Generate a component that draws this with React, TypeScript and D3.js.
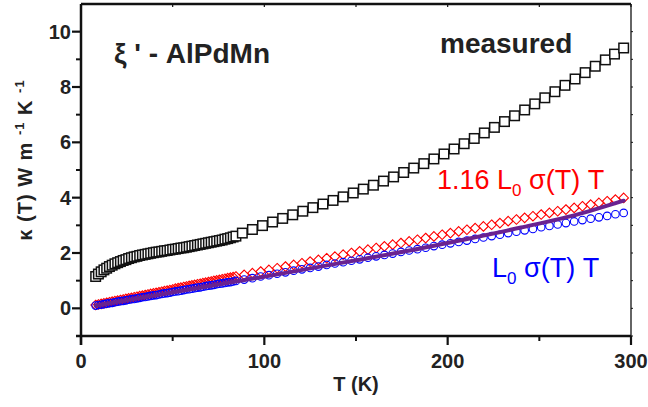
import React from "react";
import * as d3 from "d3";

// Temperatures (K) of the densely sampled low-T region (shared by all three series)
const tDense = [8, 9.5, 11, 12.5, 14, 15.5, 17, 18.5, 20, 21.5, 23, 24.5, 26, 27.5, 29, 30.5, 32, 33.5, 35, 36.5, 38, 39.5, 41, 42.5, 44, 45.5, 47, 48.5, 50, 51.5, 53, 54.5, 56, 57.5, 59, 60.5, 62, 63.5, 65, 66.5, 68, 69.5, 71, 72.5, 74, 75.5, 77, 78.5, 80, 81.5, 83, 84.5];

// measured kappa
const measuredDense = [1.15, 1.24, 1.32, 1.39, 1.45, 1.51, 1.56, 1.61, 1.65, 1.69, 1.73, 1.76, 1.80, 1.83, 1.86, 1.88, 1.91, 1.93, 1.95, 1.97, 1.99, 2.01, 2.03, 2.04, 2.06, 2.08, 2.09, 2.11, 2.13, 2.14, 2.16, 2.18, 2.19, 2.21, 2.23, 2.25, 2.27, 2.29, 2.31, 2.33, 2.35, 2.37, 2.39, 2.41, 2.43, 2.45, 2.47, 2.50, 2.52, 2.55, 2.58, 2.61];
const tMeasuredSparse = [88, 93.5, 99, 104.5, 110, 115.5, 121, 126.5, 132, 137.5, 143, 148.5, 154, 159.5, 165, 170.5, 176, 181.5, 187, 192.5, 198, 203.5, 209, 214.5, 220, 225.5, 231, 236.5, 242, 247.5, 253, 258.5, 264, 269.5, 275, 280.5, 286, 291, 296];
const measuredSparse = [2.72, 2.85, 2.99, 3.12, 3.25, 3.38, 3.51, 3.64, 3.77, 3.90, 4.03, 4.17, 4.31, 4.45, 4.60, 4.75, 4.91, 5.07, 5.23, 5.40, 5.58, 5.76, 5.95, 6.14, 6.34, 6.54, 6.75, 6.96, 7.17, 7.39, 7.61, 7.83, 8.06, 8.29, 8.52, 8.75, 8.98, 9.19, 9.41];

// 1.16 L0 sigma(T) T  (red diamonds) and L0 sigma(T) T (blue circles)
const tRBSparse = [89, 93.5, 98, 102.5, 107, 111.5, 116, 120.5, 125, 129.5, 134, 138.5, 143, 147.5, 152, 156.5, 161, 165.5, 170, 174.5, 179, 183.5, 188, 192.5, 197, 201.5, 206, 210.5, 215, 219.5, 224, 228.5, 233, 237.5, 242, 246.5, 251, 255.5, 260, 264.5, 269, 273.5, 278, 282.5, 287, 291.5, 296];
const redDense = [0.12, 0.14, 0.16, 0.18, 0.20, 0.22, 0.24, 0.26, 0.28, 0.30, 0.32, 0.34, 0.36, 0.38, 0.40, 0.42, 0.44, 0.46, 0.48, 0.50, 0.52, 0.54, 0.56, 0.58, 0.60, 0.62, 0.64, 0.66, 0.68, 0.71, 0.73, 0.75, 0.77, 0.79, 0.81, 0.83, 0.85, 0.87, 0.89, 0.91, 0.93, 0.95, 0.97, 0.99, 1.01, 1.03, 1.05, 1.07, 1.09, 1.11, 1.13, 1.15];
const redSparse = [1.21, 1.27, 1.33, 1.39, 1.45, 1.51, 1.57, 1.63, 1.69, 1.75, 1.81, 1.87, 1.94, 2.00, 2.06, 2.12, 2.18, 2.24, 2.30, 2.36, 2.42, 2.48, 2.54, 2.60, 2.66, 2.72, 2.78, 2.84, 2.90, 2.96, 3.02, 3.08, 3.15, 3.21, 3.27, 3.33, 3.39, 3.45, 3.51, 3.57, 3.63, 3.69, 3.75, 3.81, 3.87, 3.93, 3.99];
const blueDense = [0.10, 0.12, 0.13, 0.15, 0.17, 0.19, 0.20, 0.22, 0.24, 0.26, 0.27, 0.29, 0.31, 0.33, 0.34, 0.36, 0.38, 0.40, 0.41, 0.43, 0.45, 0.47, 0.48, 0.50, 0.52, 0.54, 0.55, 0.57, 0.59, 0.61, 0.62, 0.64, 0.66, 0.68, 0.69, 0.71, 0.73, 0.75, 0.76, 0.78, 0.80, 0.82, 0.83, 0.85, 0.87, 0.89, 0.90, 0.92, 0.94, 0.95, 0.97, 0.99];
const blueSparse = [1.04, 1.09, 1.15, 1.20, 1.25, 1.30, 1.36, 1.41, 1.46, 1.51, 1.57, 1.62, 1.67, 1.72, 1.77, 1.83, 1.88, 1.93, 1.98, 2.04, 2.09, 2.14, 2.19, 2.25, 2.30, 2.35, 2.40, 2.45, 2.51, 2.56, 2.61, 2.66, 2.72, 2.77, 2.82, 2.87, 2.93, 2.98, 3.03, 3.08, 3.14, 3.19, 3.24, 3.29, 3.34, 3.40, 3.45];

// purple fit line
const tFit = [8, 30, 60, 90, 120, 150, 180, 210, 240, 270, 296];
const fitValues = [0.10, 0.35, 0.69, 1.03, 1.38, 1.74, 2.10, 2.50, 2.92, 3.38, 3.89];

// axis ticks
const xTicks = [0, 100, 200, 300];
const xMinorTicks = [50, 150, 250];
const yTicks = [0, 2, 4, 6, 8, 10];
const yMinorTicks = [-1, 1, 3, 5, 7, 9];

const W = 648;
const H = 407;
const FONT = "'Liberation Sans', Arial, Helvetica, sans-serif";

export default function App() {
  const x = d3.scaleLinear().domain([0, 300]).range([81, 631]);
  const y = d3.scaleLinear().domain([-1, 11]).range([336, 4]);

  const measured = [
    ...tDense.map((t, i) => [t, measuredDense[i]]),
    ...tMeasuredSparse.map((t, i) => [t, measuredSparse[i]]),
  ];
  const red = [
    ...tDense.map((t, i) => [t, redDense[i]]),
    ...tRBSparse.map((t, i) => [t, redSparse[i]]),
  ];
  const blue = [
    ...tDense.map((t, i) => [t, blueDense[i]]),
    ...tRBSparse.map((t, i) => [t, blueSparse[i]]),
  ];
  const fit = tFit.map((t, i) => [t, fitValues[i]] as [number, number]);

  const line = d3
    .line<[number, number]>()
    .x((d) => x(d[0]))
    .y((d) => y(d[1]))
    .curve(d3.curveMonotoneX);

  const sq = 9.5;
  const dm = 4.8;
  const cr = 3.8;
  const x0 = x.range()[0];
  const x1 = x.range()[1];
  const y0 = y.range()[0];
  const y1 = y.range()[1];

  return (
    <svg
      width={W}
      height={H}
      style={{ position: "absolute", left: 0, top: 0, background: "#fff" }}
      fontFamily={FONT}
    >
      <rect x={0} y={0} width={W} height={H} fill="#fff" />
      {/* measured squares */}
      <g>
        {measured.map((d, i) => (
          <rect
            key={"m" + i}
            x={x(d[0]) - sq / 2}
            y={y(d[1]) - sq / 2}
            width={sq}
            height={sq}
            fill="#fff"
            stroke="#111"
            strokeWidth={1.5}
          />
        ))}
      </g>
      {/* red diamonds */}
      <g>
        {red.map((d, i) => {
          const cx = x(d[0]);
          const cy = y(d[1]);
          return (
            <path
              key={"r" + i}
              d={`M${cx},${cy - dm}L${cx + dm},${cy}L${cx},${cy + dm}L${cx - dm},${cy}Z`}
              fill="none"
              stroke="#ff0000"
              strokeWidth={1.1}
            />
          );
        })}
      </g>
      {/* blue circles */}
      <g>
        {blue.map((d, i) => (
          <circle
            key={"b" + i}
            cx={x(d[0])}
            cy={y(d[1])}
            r={cr}
            fill="none"
            stroke="#0000ff"
            strokeWidth={1.1}
          />
        ))}
      </g>
      {/* fit line */}
      <path d={line(fit) || ""} fill="none" stroke="#6a2290" strokeWidth={4} strokeLinecap="round" />

      {/* frame */}
      <line x1={x0} x2={x1} y1={y1} y2={y1} stroke="#111" strokeWidth={2.5} />
      <line x1={x1} x2={x1} y1={y1} y2={y0} stroke="#111" strokeWidth={1.3} />
      <line x1={x0 - 5} x2={x1} y1={y0} y2={y0} stroke="#111" strokeWidth={2.5} />
      <line x1={x0} x2={x0} y1={y1} y2={y0 + 9} stroke="#111" strokeWidth={2.5} />

      {/* x ticks */}
      {xTicks.map((t) => (
        <g key={"xt" + t}>
          <line x1={x(t)} x2={x(t)} y1={y0} y2={y0 + 9} stroke="#111" strokeWidth={2.2} />
          <line x1={x(t)} x2={x(t)} y1={y1} y2={y1 + 3} stroke="#111" strokeWidth={1.2} />
          <text
            x={x(t)}
            y={368}
            textAnchor="middle"
            fontSize={20}
            fontWeight="bold"
            fill="#222"
          >
            {t}
          </text>
        </g>
      ))}
      {xMinorTicks.map((t) => (
        <g key={"xm" + t}>
          <line x1={x(t)} x2={x(t)} y1={y0} y2={y0 + 5} stroke="#111" strokeWidth={2} />
          <line x1={x(t)} x2={x(t)} y1={y1} y2={y1 + 3} stroke="#111" strokeWidth={1.2} />
        </g>
      ))}
      {/* y ticks */}
      {yTicks.map((t) => (
        <g key={"yt" + t}>
          <line x1={x0 - 9} x2={x0} y1={y(t)} y2={y(t)} stroke="#111" strokeWidth={2.2} />
          <line x1={x1} x2={x1 + 2} y1={y(t)} y2={y(t)} stroke="#111" strokeWidth={1} />
          <text
            x={71}
            y={y(t) + 7}
            textAnchor="end"
            fontSize={20}
            fontWeight="bold"
            fill="#222"
          >
            {t}
          </text>
        </g>
      ))}
      {yMinorTicks.map((t) => (
        <g key={"ym" + t}>
          <line x1={x0 - 5} x2={x0} y1={y(t)} y2={y(t)} stroke="#111" strokeWidth={2} />
          <line x1={x1} x2={x1 + 2} y1={y(t)} y2={y(t)} stroke="#111" strokeWidth={1} />
        </g>
      ))}

      {/* axis titles */}
      <text x={356} y={391} textAnchor="middle" fontSize={20} fontWeight="bold" fill="#222">
        T (K)
      </text>
      <text
        transform="translate(32,160) rotate(-90)"
        textAnchor="middle"
        fontSize={20}
        fontWeight="bold"
        fill="#222"
        letterSpacing={1}
      >
        <tspan>κ (T)  W m </tspan>
        <tspan dy={-8} fontSize={13}>-1</tspan>
        <tspan dy={8}> K </tspan>
        <tspan dy={-8} fontSize={13}>-1</tspan>
      </text>

      {/* annotations */}
      <text x={114} y={63} fontSize={28} fontWeight="bold" fill="#222">
        ξ ' - AlPdMn
      </text>
      <text x={440} y={53} fontSize={28} fontWeight="bold" fill="#222">
        measured
      </text>
      <text x={437} y={189} fontSize={27} fill="#ff0000">
        <tspan>1.16 L</tspan>
        <tspan dy={7} fontSize={17}>0</tspan>
        <tspan dy={-7}> σ(T) T</tspan>
      </text>
      <text x={492} y={277} fontSize={27} fill="#0000ff">
        <tspan>L</tspan>
        <tspan dy={7} fontSize={17}>0</tspan>
        <tspan dy={-7}> σ(T) T</tspan>
      </text>
    </svg>
  );
}
